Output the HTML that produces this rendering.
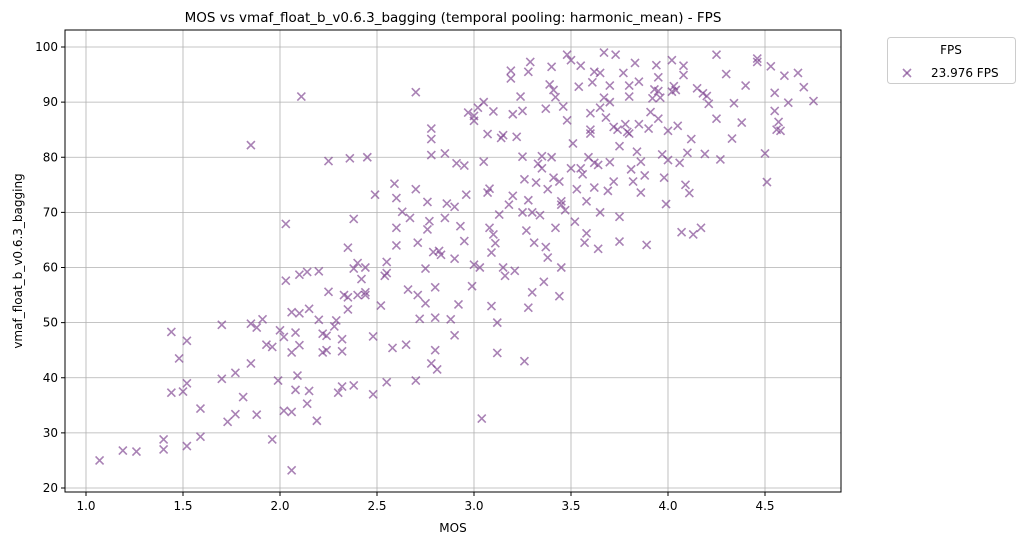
<!DOCTYPE html>
<html><head><meta charset="utf-8">
<style>
body{margin:0;background:#fff;}
svg text{font-family:"DejaVu Sans","Liberation Sans",sans-serif;fill:#000;}
</style></head>
<body>
<svg id="chart" width="1025" height="545" xmlns="http://www.w3.org/2000/svg">
<text x="453" y="22" font-size="13.5" text-anchor="middle">MOS vs vmaf_float_b_v0.6.3_bagging (temporal pooling: harmonic_mean) - FPS</text>
<text x="453" y="532" font-size="12" text-anchor="middle">MOS</text>
<text x="22" y="261" font-size="12" text-anchor="middle" transform="rotate(-90 22 261)">vmaf_float_b_v0.6.3_bagging</text>
<g id="grid"></g>
<g id="ticks"></g>
<g id="pts"></g>
<rect x="65" y="30" width="776" height="462" fill="none" stroke="#000" stroke-width="1"/>
<g>
<rect x="887.5" y="37.5" width="128" height="46" rx="3" fill="#fff" stroke="#ccc"/>
<text x="951" y="54" font-size="12" text-anchor="middle">FPS</text>
<g stroke="#7b3f8e" stroke-opacity="0.65" stroke-width="1.6"><line x1="903" y1="69" x2="911" y2="77"/><line x1="903" y1="77" x2="911" y2="69"/></g>
<text x="931" y="77" font-size="12">23.976 FPS</text>
</g>
</svg>
<script>
const xTicks=[1.0,1.5,2.0,2.5,3.0,3.5,4.0,4.5];
const yTicks=[20,30,40,50,60,70,80,90,100];
const mos=[1.07,1.19,1.26,1.4,1.4,1.44,1.44,1.48,1.5,1.52,1.52,1.52,1.59,1.59,1.7,1.7,1.73,1.77,1.77,1.81,1.85,1.85,1.85,1.88,1.88,1.91,1.93,1.96,1.96,1.99,2.0,2.02,2.02,2.03,2.03,2.06,2.06,2.06,2.06,2.08,2.08,2.09,2.1,2.1,2.1,2.11,2.14,2.14,2.15,2.15,2.19,2.2,2.2,2.22,2.22,2.24,2.24,2.25,2.25,2.28,2.29,2.3,2.32,2.32,2.32,2.33,2.35,2.35,2.35,2.36,2.38,2.38,2.38,2.4,2.42,2.44,2.44,2.44,2.45,2.48,2.48,2.49,2.52,2.54,2.55,2.55,2.58,2.59,2.6,2.6,2.63,2.65,2.66,2.67,2.7,2.7,2.7,2.71,2.71,2.72,2.75,2.75,2.76,2.76,2.77,2.78,2.78,2.78,2.78,2.79,2.8,2.8,2.8,2.81,2.82,2.83,2.85,2.86,2.88,2.9,2.9,2.91,2.92,2.93,2.95,2.96,2.97,2.99,3.0,3.0,3.02,3.03,3.04,3.05,3.05,3.07,3.07,3.08,3.08,3.09,3.09,3.1,3.11,3.12,3.12,3.13,3.14,3.15,3.16,3.18,3.19,3.19,3.2,3.21,3.22,3.24,3.25,3.25,3.26,3.26,3.27,3.28,3.28,3.28,3.29,3.3,3.31,3.32,3.33,3.34,3.35,3.36,3.37,3.37,3.38,3.38,3.39,3.4,3.41,3.41,3.42,3.42,3.44,3.44,3.45,3.45,3.46,3.47,3.48,3.48,3.5,3.51,3.52,3.53,3.54,3.55,3.56,3.57,3.58,3.58,3.59,3.6,3.6,3.61,3.62,3.62,3.64,3.64,3.65,3.65,3.67,3.67,3.68,3.69,3.7,3.7,3.72,3.72,3.73,3.74,3.75,3.75,3.77,3.78,3.79,3.8,3.8,3.81,3.82,3.83,3.84,3.85,3.86,3.86,3.88,3.89,3.9,3.91,3.92,3.93,3.94,3.95,3.96,3.97,3.98,3.99,4.0,4.0,4.02,4.03,4.04,4.05,4.06,4.07,4.08,4.08,4.09,4.11,4.12,4.13,4.15,4.17,4.18,4.2,4.19,4.21,4.25,4.25,4.27,4.3,4.33,4.34,4.38,4.4,4.46,4.46,4.5,4.51,4.53,4.55,4.55,4.56,4.57,4.58,4.6,4.62,4.67,4.7,4.75,4.02,3.65,3.5,3.1,2.9,3.0,3.15,3.3,3.45,3.6,3.7,3.85,3.95,3.4,3.2,2.55,2.85,2.4,2.6,3.55,3.75,3.95,2.95,3.35,3.25,3.62,3.8,4.1];
const vmaf=[25,26.8,26.6,27,28.8,37.3,48.3,43.5,37.5,39,46.7,27.6,34.4,29.3,49.6,39.8,32,33.4,40.9,36.5,42.6,49.8,82.2,33.3,49.1,50.6,46,45.6,28.8,39.5,48.6,34,47.4,67.9,57.6,23.2,33.8,44.6,51.9,48.2,37.8,40.4,45.9,51.7,58.7,91,35.3,59.2,37.6,52.5,32.2,50.5,59.3,44.6,48,45,47.6,55.6,79.3,49.3,50.4,37.3,38.4,44.8,47,55,52.4,63.6,54.6,79.8,68.8,59.8,38.6,60.8,57.9,55.5,55,60,80,47.5,37,73.2,53.1,58.5,59,39.2,45.4,75.2,67.2,72.6,70.1,46,56,69,74.2,39.5,91.8,55,64.5,50.7,53.5,59.8,66.9,71.9,68.4,83.3,85.2,80.4,42.6,62.8,45,50.9,56.4,41.5,63,62.3,80.7,71.6,50.6,47.7,61.6,78.9,53.3,67.5,64.8,73.2,88.1,56.6,87.5,86.6,89,60,32.6,90,79.2,73.6,84.2,74.3,67.2,62.7,53,88.3,64.4,44.5,50,69.6,83.5,84,58.5,71.4,94.3,95.7,87.8,59.4,83.7,91,80.1,88.4,43,76,66.7,52.7,72.2,95.5,97.3,55.5,64.5,75.4,78.8,69.5,80.2,57.4,88.8,63.7,74.2,61.8,93.2,96.4,76.3,92.2,90.9,67.2,54.8,75.6,60,71.4,89.2,70.4,86.7,98.6,97.6,82.5,68.3,74.2,92.8,96.6,76.9,64.5,66.2,72,80,85,84.3,93.6,95.5,74.5,78.6,63.4,70,95.3,99,90.8,87.2,73.9,79.1,90,85.5,75.6,98.6,85,64.7,69.2,95.3,86,84.6,91,93,77.8,75.6,97.1,81,93.7,79.2,73.6,76.7,64.1,85.2,88.2,90.7,92.3,96.7,94.5,90.8,80.5,76.3,71.5,84.8,79.5,97.6,92.9,92.2,85.7,79,66.4,94.9,96.6,75,73.5,83.3,66,92.5,67.2,91.6,91.1,80.6,89.7,87,98.6,79.6,95.1,83.4,89.8,86.3,93,97.3,97.9,80.7,75.5,96.5,91.7,88.4,85,86.4,84.8,94.8,89.9,95.3,92.7,90.2,91.9,89,78,66,71,60.5,60,70,72,88,93,86,87,80,73,61,69,55,64,78,82,92,78.5,78,70,79,84.3,80.8];
const NS="http://www.w3.org/2000/svg";
function sx(v){return 86+(v-1)*194;}
function sy(v){return 488-(v-20)*5.5125;}
const grid=document.getElementById('grid'),ticks=document.getElementById('ticks'),pts=document.getElementById('pts');
function mk(tag,attrs,parent){const e=document.createElementNS(NS,tag);for(const k in attrs)e.setAttribute(k,attrs[k]);parent.appendChild(e);return e;}
xTicks.forEach(t=>{const x=sx(t);
const g=mk('line',{x1:x,x2:x,y1:30,y2:492,stroke:'#b0b0b0','stroke-width':0.8},grid);


const tk=mk('line',{x1:x,x2:x,y1:492,y2:496,stroke:'#000'},ticks);


const tx=mk('text',{x:x,y:510,'font-size':12,'text-anchor':'middle'},ticks);tx.textContent=t.toFixed(1);

});
yTicks.forEach(t=>{const y=sy(t);
const g=mk('line',{x1:65,x2:841,y1:y,y2:y,stroke:'#b0b0b0','stroke-width':0.8},grid);


const tk=mk('line',{x1:61,x2:65,y1:y,y2:y,stroke:'#000'},ticks);


const tx=mk('text',{x:58,y:y+4,'font-size':12,'text-anchor':'end'},ticks);tx.textContent=t;

});
mos.forEach((m,i)=>{const x=sx(m),y=sy(vmaf[i]),r=4;
const p=mk('path',{d:`M${x-r} ${y-r}L${x+r} ${y+r}M${x-r} ${y+r}L${x+r} ${y-r}`,stroke:'#7b3f8e','stroke-opacity':0.65,'stroke-width':1.6,fill:'none'},pts);

});
</script>
</body></html>
